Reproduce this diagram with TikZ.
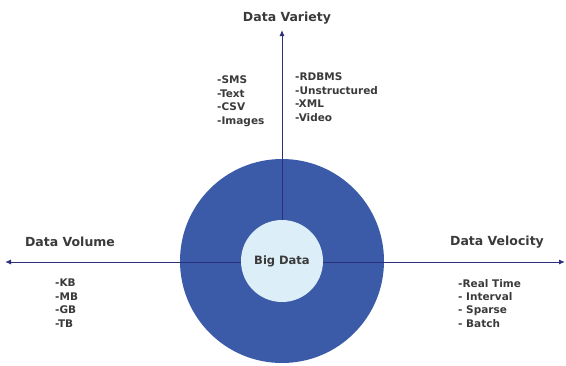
\documentclass[tikz,border=0pt]{standalone}
\usepackage{fontspec}
\setmainfont{DejaVu Sans}
\usetikzlibrary{arrows.meta}
\definecolor{ringblue}{HTML}{3B5BA9}
\definecolor{coreblue}{HTML}{DCEEF8}
\definecolor{axisnavy}{HTML}{2C2F7E}
\definecolor{labelgray}{HTML}{3A3A3A}
\tikzset{
  axis/.style={draw=axisnavy, line width=1pt, -{Latex[length=6pt,width=5pt]}},
  heading/.style={text=labelgray, font=\bfseries\fontsize{12.5}{14}\selectfont, inner sep=0pt},
  itemlist/.style={text=labelgray, font=\bfseries\fontsize{10.5}{13.4}\selectfont, align=left, inner sep=0pt, anchor=north west},
}
\begin{document}
\begin{tikzpicture}[x=1pt, y=-1pt]
  \useasboundingbox (0,0) rectangle (566,365);
  % rings of the centre
  \node[circle, fill=ringblue, minimum size=204pt, inner sep=0pt] (ring) at (282,261) {};
  \node[circle, fill=coreblue, minimum size=82pt, inner sep=0pt, text=labelgray, font=\bfseries\fontsize{11.5}{13}\selectfont] (core) at (282,261) {Big Data};
  % axis end points
  \coordinate (topTip) at (282,30);
  \coordinate (leftTip) at (5,262);
  \coordinate (rightTip) at (565,262);
  \draw[axis] (core.north) -- (topTip);
  \draw[axis] (core.west |- leftTip) -- (leftTip);
  \draw[axis] (core.east |- rightTip) -- (rightTip);
  % headings
  \node[heading] (variety) at (287,18) {Data Variety};
  \node[heading] (volume) at (70,242) {Data Volume};
  \node[heading] (velocity) at (497,242) {Data Velocity};
  % item lists
  \node[itemlist] (formats) at (217,76) {-SMS\\-Text\\-CSV\\-Images};
  \node[itemlist] (sources) at (295,73) {-RDBMS\\-Unstructured\\-XML\\-Video};
  \node[itemlist] (sizes) at (55,279) {-KB\\-MB\\-GB\\-TB};
  \node[itemlist] (speeds) at (458,279) {-Real Time\\- Interval\\- Sparse\\- Batch};
\end{tikzpicture}
\end{document}
